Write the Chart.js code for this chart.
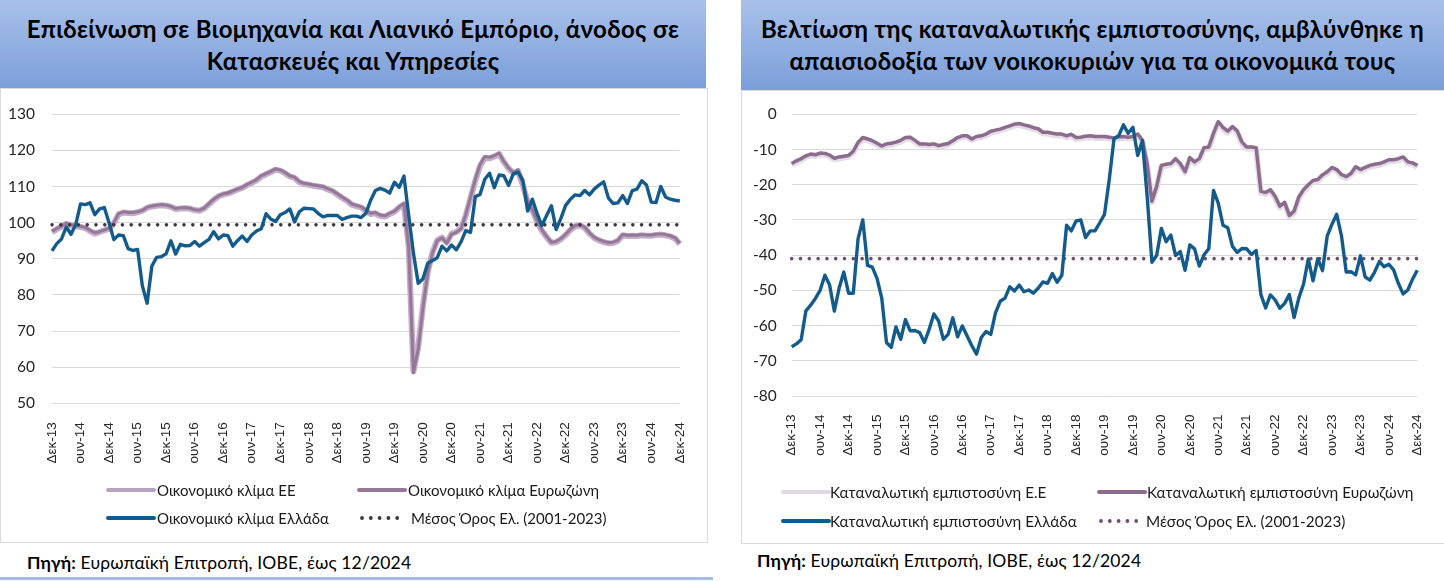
<!DOCTYPE html>
<html><head><meta charset="utf-8">
<script src="https://cdn.jsdelivr.net/npm/chart.js@4.4.1/dist/chart.umd.min.js"></script>
<style>
html,body{margin:0;padding:0;background:#fff;}
body{width:1444px;height:581px;position:relative;overflow:hidden;font-family:Lato,'Open Sans',sans-serif;}
.banner{position:absolute;background:linear-gradient(#a9c1ea,#7c9ed9);color:#000;font-weight:bold;font-size:24px;letter-spacing:0.35px;text-align:center;line-height:32px;box-sizing:border-box;padding-top:13px;white-space:nowrap;}
.box{position:absolute;border:1px solid #dadada;box-sizing:border-box;background:#fff;}
.src{position:absolute;font-size:17.5px;letter-spacing:0.15px;line-height:20px;color:#000;white-space:nowrap;}
canvas{position:absolute;}
</style></head>
<body>
<div class="banner" style="left:0;top:0;width:706px;height:88px">Επιδείνωση σε Βιομηχανία και Λιανικό Εμπόριο, άνοδος σε<br>Κατασκευές και Υπηρεσίες</div>
<div class="box" style="left:0;top:88px;width:708px;height:455px"></div>
<canvas id="c1" width="707" height="454" style="left:0;top:88px"></canvas>
<div class="src" style="left:27px;top:553px"><b>Πηγή:</b> Ευρωπαϊκή Επιτροπή, ΙΟΒΕ, έως 12/2024</div>
<div style="position:absolute;left:0;top:577px;width:713px;height:3px;background:#a4bde8"></div>

<div class="banner" style="left:741px;top:0;width:703px;height:90px">Βελτίωση της καταναλωτικής εμπιστοσύνης, αμβλύνθηκε η<br>απαισιοδοξία των νοικοκυριών για τα οικονομικά τους</div>
<div class="box" style="left:741px;top:90px;width:720px;height:454px"></div>
<canvas id="c2" width="703" height="453" style="left:741px;top:90px"></canvas>
<div class="src" style="left:757px;top:551px"><b>Πηγή:</b> Ευρωπαϊκή Επιτροπή, ΙΟΒΕ, έως 12/2024</div>

<script>
// ---------- categories ----------
const monthNames = ['Ιαν','Φεβ','Μαρ','Απρ','Μαϊ','Ιουν','Ιουλ','Αυγ','Σεπ','Οκτ','Νοε','Δεκ'];
const categories = ['Δεκ-13'];
for (let y = 14; y <= 24; y++) for (let m = 0; m < 12; m++) categories.push(monthNames[m] + '-' + y);
const tickEvery = 6; // labels shown: Δεκ-13, Ιουν-14, ... Δεκ-24

// ---------- left chart: economic sentiment ----------
const euEsi = [
 97.4, 98.2, 98.9, 99.7, 99.3, 99.0, 98.8, 98.5, 97.7, 97.0,
 97.4, 97.9, 98.3, 99.8, 102.3, 102.8, 102.7, 102.6, 102.9, 103.3,
 104.1, 104.5, 104.7, 104.8, 104.7, 104.4, 103.8, 103.9, 104.0, 103.9,
 103.5, 103.3, 103.9, 105.1, 106.3, 107.3, 107.8, 108.1, 108.6, 109.2,
 109.6, 110.4, 111.0, 111.7, 112.8, 113.4, 114.0, 114.7, 114.4, 113.7,
 112.8, 112.4, 111.2, 110.7, 110.5, 110.2, 110.0, 109.8, 109.2, 108.7,
 107.8, 106.9, 106.1, 105.0, 104.6, 104.2, 103.3, 102.4, 102.6, 101.9,
 101.7, 102.4, 103.0, 104.2, 105.1, 93.2, 58.8, 65.6, 77.0, 86.3,
 91.8, 95.1, 95.9, 94.5, 96.9, 97.4, 98.4, 102.0, 106.8, 111.6,
 115.7, 117.9, 117.8, 118.3, 119.0, 116.8, 115.0, 113.7, 114.3, 110.4,
 105.8, 103.3, 100.3, 97.8, 96.0, 94.4, 94.6, 95.4, 96.6, 98.0,
 99.0, 99.2, 98.6, 97.0, 95.8, 95.1, 94.6, 94.3, 94.4, 95.0,
 96.5, 96.3, 96.4, 96.3, 96.5, 96.4, 96.4, 96.6, 96.7, 96.5,
 96.2, 95.6, 94.1];
const ezEsi = [
 97.6, 98.4, 99.0, 99.9, 99.4, 99.2, 99.0, 98.7, 97.9, 97.2,
 97.5, 98.0, 98.5, 100.0, 102.5, 103.0, 102.8, 102.8, 103.0, 103.4,
 104.3, 104.6, 104.8, 105.0, 104.9, 104.5, 103.9, 104.1, 104.1, 104.0,
 103.6, 103.5, 104.0, 105.3, 106.5, 107.4, 108.0, 108.2, 108.8, 109.3,
 109.8, 110.6, 111.2, 111.9, 113.0, 113.6, 114.2, 114.9, 114.6, 113.9,
 113.0, 112.6, 111.4, 110.9, 110.7, 110.4, 110.2, 110.0, 109.4, 108.9,
 108.0, 107.1, 106.3, 105.2, 104.8, 104.4, 103.5, 102.6, 102.8, 102.1,
 101.9, 102.6, 103.2, 104.4, 105.3, 93.0, 58.5, 65.0, 76.5, 86.0,
 91.6, 95.0, 95.8, 94.3, 96.8, 97.3, 98.3, 102.2, 107.1, 112.0,
 116.1, 118.3, 118.1, 118.6, 119.3, 117.0, 115.2, 113.9, 114.6, 110.7,
 106.0, 103.5, 100.5, 98.0, 96.2, 94.6, 94.8, 95.6, 96.8, 98.2,
 99.2, 99.4, 98.8, 97.2, 96.0, 95.3, 94.8, 94.5, 94.6, 95.2,
 96.7, 96.5, 96.6, 96.5, 96.7, 96.6, 96.6, 96.8, 96.9, 96.7,
 96.4, 95.8, 94.3];
const grEsi = [
 92.2, 94.2, 95.5, 98.8, 96.8, 99.5, 105.2, 105.0, 105.5, 102.2,
 103.8, 104.2, 100.0, 95.3, 96.6, 96.4, 92.8, 92.3, 92.6, 82.5,
 77.7, 88.0, 90.4, 90.6, 91.4, 95.0, 91.3, 94.0, 93.6, 93.7,
 94.8, 93.5, 94.5, 95.4, 97.5, 95.5, 96.6, 96.4, 93.5, 95.0,
 96.3, 94.8, 96.6, 97.7, 98.3, 102.5, 101.0, 100.3, 102.2, 102.8,
 103.8, 100.2, 103.0, 104.0, 103.9, 103.8, 102.5, 101.6, 102.0, 102.0,
 102.0, 100.9, 101.4, 101.8, 101.8, 101.4, 102.6, 106.2, 108.9, 109.5,
 109.0, 108.2, 111.2, 109.8, 112.9, 102.0, 91.5, 83.2, 84.5, 88.8,
 89.5, 90.3, 93.5, 92.2, 93.8, 92.5, 94.7, 97.8, 97.3, 107.2,
 107.8, 112.0, 113.7, 109.7, 113.2, 113.0, 110.3, 113.5, 114.0, 111.8,
 103.2, 106.5, 102.5, 99.2, 102.0, 104.7, 98.1, 101.2, 104.8, 106.5,
 107.7, 107.5, 108.9, 107.7, 109.3, 110.4, 111.3, 106.8, 105.3, 105.5,
 107.5, 105.3, 108.9, 109.3, 111.6, 110.4, 105.7, 105.6, 110.0, 107.1,
 106.5, 106.2, 106.0];
const grEsiAvg = 99.4; // Μέσος Όρος Ελ. (2001-2023)
const esiTicks = {min: 50, max: 130, step: 10};

// ---------- right chart: consumer confidence ----------
const euCc = [
 -14.4, -13.6, -13.0, -12.1, -11.7, -11.8, -11.4, -11.5, -12.0, -12.8,
 -12.5, -12.3, -12.0, -10.9, -8.4, -7.0, -7.3, -7.9, -8.6, -9.3,
 -8.8, -8.6, -8.2, -7.8, -7.0, -6.9, -7.8, -8.7, -8.8, -8.9,
 -8.7, -9.2, -9.0, -8.6, -7.9, -7.0, -6.5, -6.4, -7.3, -6.7,
 -6.5, -6.0, -5.2, -4.9, -4.6, -4.1, -3.7, -3.2, -3.0, -3.4,
 -3.7, -4.2, -4.5, -5.4, -5.5, -5.8, -6.0, -6.0, -6.5, -6.1,
 -7.0, -6.9, -6.6, -6.5, -6.7, -6.7, -6.7, -6.9, -7.1, -6.8,
 -6.7, -6.9, -6.7, -6.0, -7.8, -14.4, -25.0, -20.9, -14.9, -14.6,
 -14.4, -13.0, -14.4, -16.6, -12.7, -13.9, -13.0, -9.9, -9.7, -5.8,
 -2.5, -4.1, -5.2, -3.9, -5.1, -8.3, -9.7, -9.7, -9.9, -22.3,
 -22.6, -21.8, -23.7, -26.5, -25.4, -29.0, -27.9, -23.9, -21.8, -20.4,
 -19.2, -18.9, -17.6, -16.7, -15.5, -16.1, -17.5, -18.1, -17.2, -15.3,
 -16.1, -15.5, -14.9, -14.6, -14.4, -13.9, -13.3, -13.3, -13.0, -12.5,
 -13.9, -14.2, -14.9];
const ezCc = [
 -14.0, -13.2, -12.6, -11.8, -11.3, -11.5, -11.0, -11.1, -11.6, -12.5,
 -12.1, -11.9, -11.7, -10.5, -8.0, -6.6, -7.0, -7.5, -8.2, -9.0,
 -8.4, -8.2, -7.9, -7.4, -6.6, -6.5, -7.4, -8.4, -8.4, -8.6,
 -8.4, -8.9, -8.6, -8.3, -7.5, -6.6, -6.1, -6.1, -7.0, -6.3,
 -6.1, -5.6, -4.8, -4.5, -4.2, -3.7, -3.3, -2.8, -2.6, -3.0,
 -3.3, -3.8, -4.1, -5.1, -5.1, -5.4, -5.6, -5.6, -6.1, -5.7,
 -6.6, -6.5, -6.2, -6.1, -6.3, -6.3, -6.3, -6.5, -6.7, -6.4,
 -6.3, -6.5, -6.3, -5.6, -7.4, -14.0, -24.7, -20.5, -14.5, -14.2,
 -14.0, -12.6, -14.0, -16.3, -12.3, -13.5, -12.6, -9.5, -9.3, -5.4,
 -2.1, -3.7, -4.8, -3.5, -4.7, -7.9, -9.3, -9.3, -9.5, -21.9,
 -22.2, -21.4, -23.3, -26.1, -25.0, -28.7, -27.5, -23.5, -21.4, -20.0,
 -18.8, -18.5, -17.2, -16.3, -15.1, -15.7, -17.1, -17.7, -16.8, -14.9,
 -15.7, -15.1, -14.5, -14.2, -14.0, -13.5, -12.9, -12.9, -12.6, -12.1,
 -13.5, -13.8, -14.5];
const grCc = [
 -66.0, -65.2, -64.0, -55.8, -54.2, -52.3, -50.0, -45.7, -48.5, -55.9,
 -49.4, -44.8, -50.8, -50.8, -35.4, -30.0, -42.9, -43.4, -46.6, -52.2,
 -64.8, -66.2, -60.4, -63.9, -58.3, -61.5, -61.4, -62.0, -64.8, -61.1,
 -56.7, -58.7, -63.9, -62.5, -57.8, -63.2, -60.1, -62.9, -65.7, -68.1,
 -63.4, -61.7, -62.5, -56.4, -53.1, -52.2, -49.0, -50.2, -48.5, -50.4,
 -49.9, -50.8, -49.4, -47.6, -48.0, -45.2, -47.7, -45.7, -31.5, -33.1,
 -30.3, -30.0, -35.0, -33.1, -33.1, -30.8, -28.4, -18.6, -7.0, -6.1,
 -3.0, -5.4, -3.7, -11.7, -7.5, -23.3, -42.0, -40.1, -32.4, -36.2,
 -34.3, -40.1, -39.0, -44.3, -37.1, -38.2, -43.1, -39.9, -38.2, -21.6,
 -25.2, -31.5, -32.2, -37.5, -39.2, -38.1, -38.2, -39.8, -38.7, -51.2,
 -55.0, -51.3, -52.7, -55.1, -53.7, -51.2, -57.7, -52.2, -48.2, -41.1,
 -47.3, -41.0, -44.4, -34.5, -31.2, -28.4, -34.5, -44.8, -44.7, -45.6,
 -40.2, -46.2, -47.1, -44.8, -41.8, -43.3, -42.6, -44.2, -48.0, -51.0,
 -49.9, -46.8, -44.3];
const grCcAvg = -41.0; // Μέσος Όρος Ελ. (2001-2023)
const ccTicks = {min: -80, max: 0, step: 10};

// ---------- legend plugin (2-column grid, like the original) ----------
const gridLegend = {
  id: 'gridLegend',
  afterDraw(chart, args, o) {
    const ctx = chart.ctx;
    ctx.save();
    ctx.font = o.font;
    ctx.textBaseline = 'middle';
    o.items.forEach(it => {
      const ds = chart.data.datasets[it.ds];
      if (ds.borderDash && ds.borderDash.length) {
        ctx.fillStyle = ds.borderColor;
        for (let k = 0; k < 5; k++) {
          ctx.beginPath();
          ctx.arc(it.x + 2 + k * 8.8, it.y, 1.9, 0, Math.PI * 2);
          ctx.fill();
        }
      } else {
        ctx.strokeStyle = ds.legendColor || ds.borderColor;
        ctx.lineWidth = 4;
        ctx.lineCap = 'round';
        ctx.beginPath();
        ctx.moveTo(it.x, it.y);
        ctx.lineTo(it.x + 46, it.y);
        ctx.stroke();
      }
      ctx.fillStyle = o.color;
      ctx.fillText(ds.label, it.tx, it.y + 1);
    });
    ctx.restore();
  }
};

function makeChart(id, cfg) {
  const avgArr = categories.map(() => cfg.avg);
  return new Chart(document.getElementById(id), {
    type: 'line',
    data: {
      labels: categories,
      datasets: [
        {label: cfg.labels[2], data: cfg.gr, borderColor: cfg.colors[2], borderWidth: 3.4, order: 0},
        {label: cfg.labels[3], data: avgArr, borderColor: cfg.colors[3], borderWidth: 3.6,
         borderDash: [0, 8.8], borderCapStyle: 'round', order: 1},
        {label: cfg.labels[1], data: cfg.ez, borderColor: cfg.colors[1], borderWidth: cfg.ezWidth, order: 2},
        {label: cfg.labels[0], data: cfg.eu, borderColor: cfg.colors[0], borderWidth: cfg.euWidth, order: 3,
         legendColor: cfg.euLegend}
      ]
    },
    options: {
      responsive: false,
      animation: false,
      devicePixelRatio: 1,
      elements: {point: {radius: 0, hoverRadius: 0}, line: {tension: 0, borderJoinStyle: 'round'}},
      layout: {padding: cfg.padding},
      plugins: {
        legend: {display: false},
        tooltip: {enabled: false},
        gridLegend: {font: cfg.legendFont, color: '#1a1a1a', items: cfg.legendItems}
      },
      scales: {
        x: {
          offset: false,
          grid: {display: false},
          border: {display: false},
          ticks: {
            autoSkip: false, maxRotation: 90, minRotation: 90, padding: cfg.xPad,
            color: '#262626', font: {family: '"Liberation Sans", Arial, sans-serif', size: 13.5},
            callback: (v, i) => (i % tickEvery === 0 ? categories[i] : '')
          },
          afterFit: s => { s.height = 60; }
        },
        y: {
          min: cfg.ticks.min, max: cfg.ticks.max,
          grid: {color: '#d9d9d9', lineWidth: 1, drawTicks: false},
          border: {display: false},
          ticks: {stepSize: cfg.ticks.step, padding: cfg.yPad, color: '#262626',
                  font: {family: 'Lato, "Open Sans", sans-serif', size: 15.5}},
          afterFit: s => { s.width = cfg.yWidth; }
        }
      }
    },
    plugins: [gridLegend]
  });
}

makeChart('c1', {
  eu: euEsi, ez: ezEsi, gr: grEsi, avg: grEsiAvg, ticks: esiTicks,
  labels: ['Οικονομικό κλίμα ΕΕ', 'Οικονομικό κλίμα Ευρωζώνη', 'Οικονομικό κλίμα Ελλάδα', 'Μέσος Όρος Ελ. (2001-2023)'],
  colors: ['#c3aec9', '#957797', '#135b8c', '#3d3540'],
  euLegend: '#b9a2bf', euWidth: 6, ezWidth: 3,
  padding: {left: 0, right: 19, top: 18.7, bottom: 78.7},
  yWidth: 52, yPad: 17, xPad: 11,
  legendFont: '15px Lato, "Open Sans", sans-serif',
  legendItems: [
    {ds: 3, x: 108, tx: 157, y: 402},
    {ds: 2, x: 359, tx: 408, y: 402},
    {ds: 0, x: 108, tx: 157, y: 430},
    {ds: 1, x: 360, tx: 411, y: 430}
  ]
});

makeChart('c2', {
  eu: euCc, ez: ezCc, gr: grCc, avg: grCcAvg, ticks: ccTicks,
  labels: ['Καταναλωτική εμπιστοσύνη Ε.Ε', 'Καταναλωτική εμπιστοσύνη Ευρωζώνη', 'Καταναλωτική εμπιστοσύνη Ελλάδα', 'Μέσος Όρος Ελ. (2001-2023)'],
  colors: ['#e4dce6', '#8b6c8c', '#135b8c', '#734a73'],
  euLegend: '#e0d8e2', euWidth: 6, ezWidth: 3.5,
  padding: {left: 0, right: 17.3, top: 20, bottom: 87},
  yWidth: 50.7, yPad: 15, xPad: 10.5,
  legendFont: '15.3px Lato, "Open Sans", sans-serif',
  legendItems: [
    {ds: 3, x: 42, tx: 89, y: 402},
    {ds: 2, x: 358, tx: 406, y: 402},
    {ds: 0, x: 42, tx: 89, y: 431},
    {ds: 1, x: 358, tx: 405, y: 431}
  ]
});
</script>
</body></html>
